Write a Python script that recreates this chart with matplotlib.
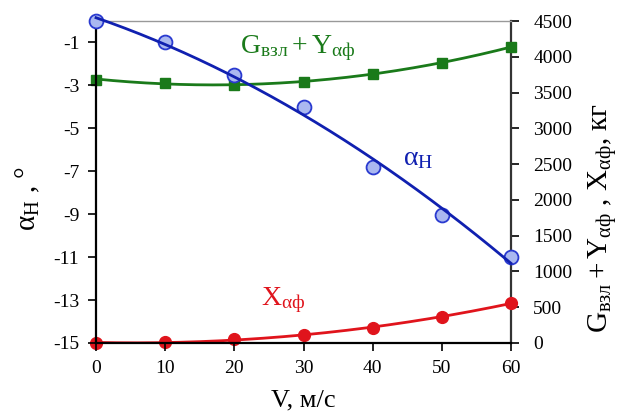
import numpy as np
import matplotlib
matplotlib.use("Agg")
import matplotlib.pyplot as plt

plt.rcParams['font.family'] = ['Liberation Serif', 'DejaVu Serif']
plt.rcParams['mathtext.fontset'] = 'custom'
plt.rcParams['mathtext.rm'] = 'Liberation Serif'
plt.rcParams['mathtext.it'] = 'Liberation Serif:italic'
plt.rcParams['axes.unicode_minus'] = False

V = [0, 10, 20, 30, 40, 50, 60]
alpha_h = [0.0, -1.0, -2.5, -4.0, -6.8, -9.05, -11.0]
g_plus_y = [3680, 3640, 3605, 3650, 3760, 3915, 4140]
x_af = [0, 10, 55, 112, 210, 365, 560]

left_ticks = [-1, -3, -5, -7, -9, -11, -13, -15]
right_ticks = [0, 500, 1000, 1500, 2000, 2500, 3000, 3500, 4000, 4500]
x_ticks = [0, 10, 20, 30, 40, 50, 60]

blue = '#1020b0'
blue_face = '#aab8f0'
green = '#1a7a1a'
red = '#e0141c'

fig = plt.figure(figsize=(6.26, 4.17), dpi=100)
ax = fig.add_axes([0.1534, 0.1775, 0.6629, 0.7721])
ax2 = ax.twinx()

xs = np.linspace(0, 60, 200)

# right axis series
cg = np.polyfit(V, g_plus_y, 2)
ax2.plot(xs, np.polyval(cg, xs), color=green, lw=2, zorder=2)
ax2.plot(V, g_plus_y, 's', color=green, ms=7, clip_on=False, zorder=3)
cr = np.polyfit(V, x_af, 2)
ax2.plot(xs, np.polyval(cr, xs), color=red, lw=2, zorder=2)
ax2.plot(V, x_af, 'o', color=red, ms=8.5, clip_on=False, zorder=3)

# left axis series on top
ax.set_zorder(ax2.get_zorder() + 1)
ax.patch.set_visible(False)
ax.plot(V, alpha_h, 'o', mfc=blue_face, mec='#2a3ad0', mew=1.3, ms=10, clip_on=False, zorder=3)
cb = np.polyfit(V, alpha_h, 2)
ax.plot(xs, np.polyval(cb, xs), color=blue, lw=2, zorder=4, clip_on=False)

ax.set_xlim(0, 60)
ax.set_ylim(-15, 0)
ax2.set_ylim(0, 4500)
ax.set_xticks(x_ticks)
ax.set_yticks(left_ticks)
ax2.set_yticks(right_ticks)

for a in (ax, ax2):
    a.tick_params(labelsize=14, direction='out', length=6, width=1.2, colors='black')
ax.tick_params(axis='y', pad=6)
ax2.tick_params(axis='y', pad=10)
ax.tick_params(axis='x', pad=6)

for s in ('left', 'bottom'):
    ax.spines[s].set_linewidth(1.6)
    ax.spines[s].set_color('black')
ax.spines['top'].set_color('#999999')
ax.spines['top'].set_linewidth(1.0)
ax.spines['right'].set_visible(False)
ax2.spines['right'].set_color('#333333')
ax2.spines['right'].set_linewidth(1.6)
for s in ('left', 'bottom', 'top'):
    ax2.spines[s].set_visible(False)

ax.set_xlabel('V, м/с', fontsize=19, labelpad=9)
fig.text(0.045, 0.525, r'$\mathrm{\alpha_{Н}}$ , °', rotation=90, fontsize=21,
         ha='center', va='center')
fig.text(0.962, 0.477, r'$\mathrm{G_{взл} + Y_{αф}}$ , $\mathrm{X_{αф}}$, кг', rotation=90,
         fontsize=21, ha='center', va='center')

fig.text(0.383, 0.885, r'$\mathrm{G_{взл} + Y_{αф}}$', color=green, fontsize=20,
         ha='left', va='center')
fig.text(0.643, 0.62, r'$\mathrm{\alpha_{Н}}$', color=blue, fontsize=20,
         ha='left', va='center')
fig.text(0.417, 0.28, r'$\mathrm{X_{αф}}$', color=red, fontsize=20,
         ha='left', va='center')

fig.savefig('out.png', dpi=100)
